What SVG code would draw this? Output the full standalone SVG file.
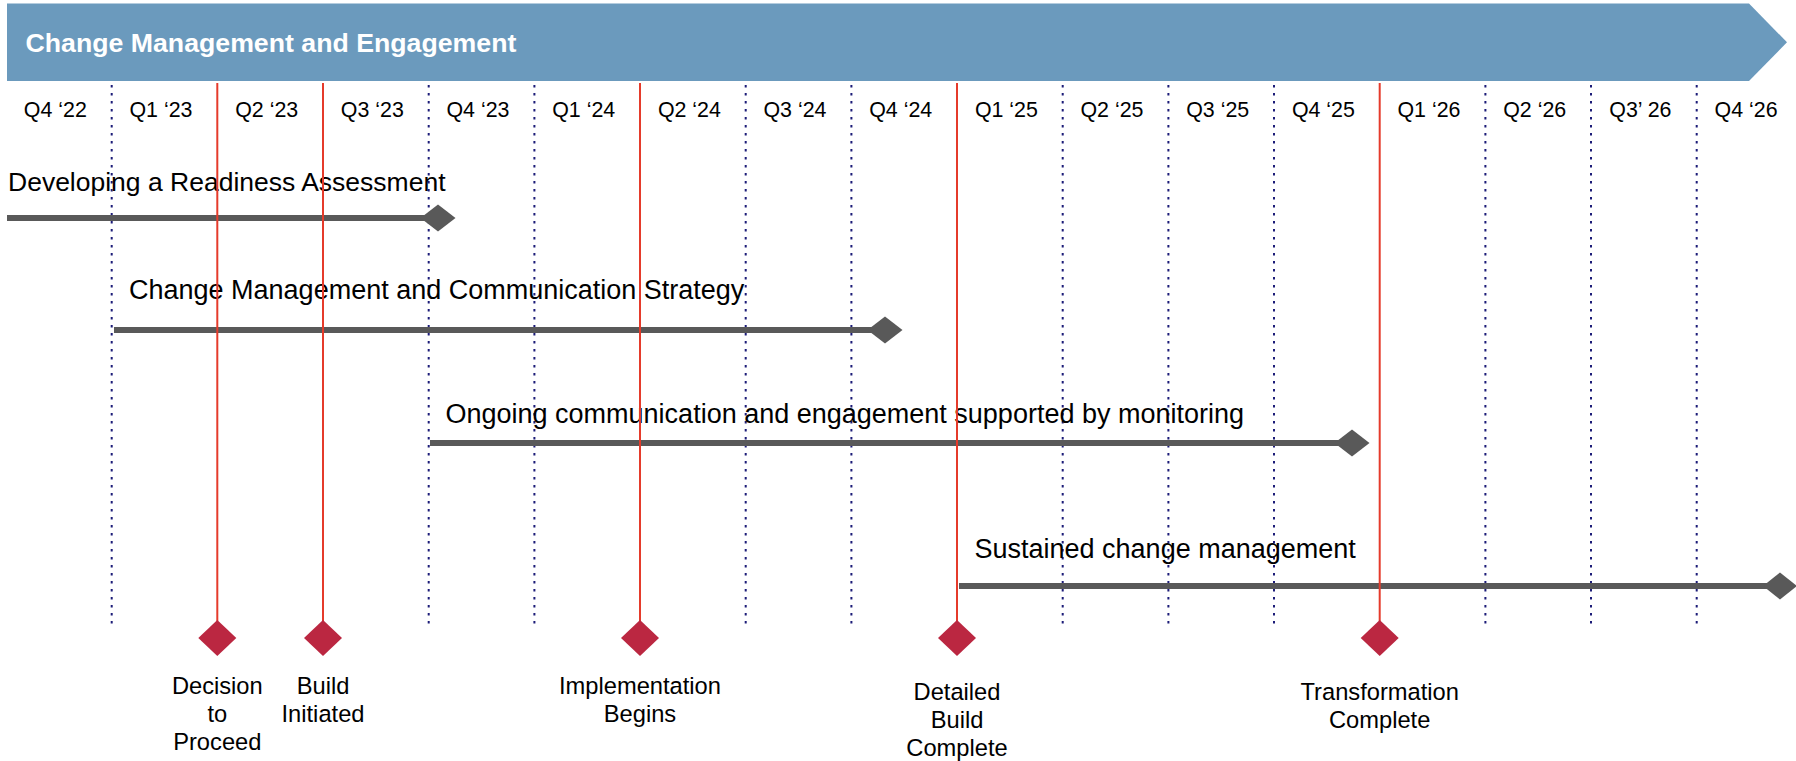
<svg xmlns="http://www.w3.org/2000/svg" width="1796" height="761" viewBox="0 0 1796 761">
<style>
.q{font-family:"Liberation Sans",Arial,sans-serif;font-size:21.4px;fill:#000;text-anchor:middle}
.bl{font-family:"Liberation Sans",Arial,sans-serif;font-size:27px;fill:#000}
.ml{font-family:"Liberation Sans",Arial,sans-serif;font-size:23.7px;fill:#000;text-anchor:middle}
.title{font-family:"Liberation Sans",Arial,sans-serif;font-size:26.7px;font-weight:bold;fill:#fff}
.dot{stroke:#1c1c78;stroke-width:2;stroke-dasharray:2.5 5.5;fill:none}
.red{stroke:#e53b2b;stroke-width:2;fill:none}
.bar{stroke:#595959;stroke-width:6;fill:none}
.gd{fill:#595959}
.rd{fill:#bb2741}
</style>
<rect width="1796" height="761" fill="#fff"/>
<g id="header">
<polygon points="7,3.5 1749,3.5 1787,42.3 1749,81 7,81" fill="#6b9abd"/>
<text class="title" x="25.5" y="52">Change Management and Engagement</text>
</g>
<g id="quarters">
<text class="q" x="55.3" y="117">Q4 ‘22</text>
<text class="q" x="161" y="117">Q1 ‘23</text>
<text class="q" x="266.7" y="117">Q2 ‘23</text>
<text class="q" x="372.3" y="117">Q3 ‘23</text>
<text class="q" x="478" y="117">Q4 ‘23</text>
<text class="q" x="583.7" y="117">Q1 ‘24</text>
<text class="q" x="689.4" y="117">Q2 ‘24</text>
<text class="q" x="795" y="117">Q3 ‘24</text>
<text class="q" x="900.7" y="117">Q4 ‘24</text>
<text class="q" x="1006.4" y="117">Q1 ‘25</text>
<text class="q" x="1112" y="117">Q2 ‘25</text>
<text class="q" x="1217.7" y="117">Q3 ‘25</text>
<text class="q" x="1323.4" y="117">Q4 ‘25</text>
<text class="q" x="1429" y="117">Q1 ‘26</text>
<text class="q" x="1534.7" y="117">Q2 ‘26</text>
<text class="q" x="1640.4" y="117">Q3’ 26</text>
<text class="q" x="1746.1" y="117">Q4 ‘26</text>
</g>
<g id="grid">
<line class="dot" x1="111.7" y1="85" x2="111.7" y2="624"/>
<line class="dot" x1="428.7" y1="85" x2="428.7" y2="624"/>
<line class="dot" x1="534.4" y1="85" x2="534.4" y2="624"/>
<line class="dot" x1="745.7" y1="85" x2="745.7" y2="624"/>
<line class="dot" x1="851.4" y1="85" x2="851.4" y2="624"/>
<line class="dot" x1="1062.7" y1="85" x2="1062.7" y2="624"/>
<line class="dot" x1="1168.4" y1="85" x2="1168.4" y2="624"/>
<line class="dot" x1="1274" y1="85" x2="1274" y2="624"/>
<line class="dot" x1="1485.4" y1="85" x2="1485.4" y2="624"/>
<line class="dot" x1="1591" y1="85" x2="1591" y2="624"/>
<line class="dot" x1="1696.7" y1="85" x2="1696.7" y2="624"/>
</g>
<g id="bar1">
<text class="bl" x="8" y="190.5" style="font-size:26.5px">Developing a Readiness Assessment</text>
<line class="bar" x1="7" y1="218" x2="438" y2="218"/>
<polygon class="gd" points="420.5,218 438,204.5 455.5,218 438,231.5"/>
</g>
<g id="bar2">
<text class="bl" x="129" y="299">Change Management and Communication Strategy</text>
<line class="bar" x1="114" y1="330" x2="885" y2="330"/>
<polygon class="gd" points="867.5,330 885,316.5 902.5,330 885,343.5"/>
</g>
<g id="bar3">
<text class="bl" x="445.5" y="423.3">Ongoing communication and engagement supported by monitoring</text>
<line class="bar" x1="430" y1="443" x2="1352" y2="443"/>
<polygon class="gd" points="1334.5,443 1352,429.5 1369.5,443 1352,456.5"/>
</g>
<g id="bar4">
<text class="bl" x="974.5" y="558.3">Sustained change management</text>
<line class="bar" x1="959" y1="586" x2="1780" y2="586"/>
<polygon class="gd" points="1763,586 1780,572.5 1797,586 1780,599.5"/>
</g>
<g id="connectors">
<line class="red" x1="217.3" y1="83" x2="217.3" y2="621"/>
<line class="red" x1="323" y1="83" x2="323" y2="621"/>
<line class="red" x1="640" y1="83" x2="640" y2="621"/>
<line class="red" x1="957" y1="83" x2="957" y2="621"/>
<line class="red" x1="1379.7" y1="83" x2="1379.7" y2="621"/>
</g>
<g id="m-decision">
<polygon class="rd" points="217.3,620 236.3,638 217.3,656 198.3,638"/>
<text class="ml" x="217.3" y="694">Decision</text>
<text class="ml" x="217.3" y="722">to</text>
<text class="ml" x="217.3" y="750">Proceed</text>
</g>
<g id="m-build">
<polygon class="rd" points="323,620 342,638 323,656 304,638"/>
<text class="ml" x="323" y="694">Build</text>
<text class="ml" x="323" y="722">Initiated</text>
</g>
<g id="m-implementation">
<polygon class="rd" points="640,620 659,638 640,656 621,638"/>
<text class="ml" x="640" y="694">Implementation</text>
<text class="ml" x="640" y="722">Begins</text>
</g>
<g id="m-detailed">
<polygon class="rd" points="957,620 976,638 957,656 938,638"/>
<text class="ml" x="957" y="700">Detailed</text>
<text class="ml" x="957" y="728">Build</text>
<text class="ml" x="957" y="756">Complete</text>
</g>
<g id="m-transformation">
<polygon class="rd" points="1379.7,620 1398.7,638 1379.7,656 1360.7,638"/>
<text class="ml" x="1379.7" y="700">Transformation</text>
<text class="ml" x="1379.7" y="728">Complete</text>
</g>
</svg>
